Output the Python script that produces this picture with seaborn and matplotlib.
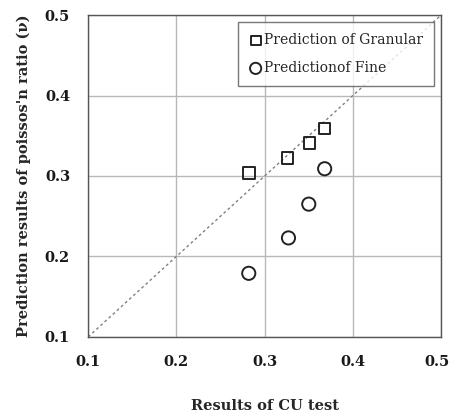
import matplotlib
matplotlib.use("Agg")
import matplotlib.pyplot as plt
import matplotlib.transforms as mtransforms
import seaborn as sns
import pandas as pd

# Data
cu_granular = [0.282, 0.326, 0.351, 0.368]
pred_granular = [0.304, 0.322, 0.341, 0.359]
cu_fine = [0.282, 0.327, 0.350, 0.368]
pred_fine = [0.179, 0.223, 0.265, 0.309]
line_x = [0.1, 0.5]
line_y = [0.1, 0.5]
ticks = [0.1, 0.2, 0.3, 0.4, 0.5]

sns.set_style("white")
plt.rcParams["font.family"] = ["DejaVu Serif"]

df_g = pd.DataFrame({"cu": cu_granular, "pred": pred_granular})
df_f = pd.DataFrame({"cu": cu_fine, "pred": pred_fine})

fig = plt.figure(figsize=(4.52, 4.19), dpi=100)
ax = fig.add_axes([0.195, 0.196, 0.781, 0.768])

sns.lineplot(x=line_x, y=line_y, ax=ax, color="#808080", linestyle=(0, (2, 2)),
             linewidth=1.0, zorder=2)
sns.scatterplot(data=df_g, x="cu", y="pred", ax=ax, marker="s", s=70,
                facecolor="none", edgecolor="#222222", linewidth=1.4,
                label="Prediction of Granular", zorder=3)
sns.scatterplot(data=df_f, x="cu", y="pred", ax=ax, marker="o", s=90,
                facecolor="none", edgecolor="#222222", linewidth=1.4,
                label="Predictionof Fine", zorder=3)

ax.set_xlim(0.1, 0.5)
ax.set_ylim(0.1, 0.5)
ax.set_xticks(ticks)
ax.set_yticks(ticks)
ax.set_xticklabels([f"{t:.1f}" for t in ticks], fontweight="bold", fontsize=10.5)
ax.set_yticklabels([f"{t:.1f}" for t in ticks], fontweight="bold", fontsize=10.5)
ax.grid(True, color="#b8b8b8", linewidth=1.0)
ax.set_axisbelow(True)
ax.tick_params(direction="out", length=5, width=1, color="#555555", pad=8,
               labelcolor="#1a1a1a")
for sp in ax.spines.values():
    sp.set_color("#555555")
    sp.set_linewidth(1.0)

# keep the last x tick label inside the figure edge
last = ax.get_xticklabels()[-1]
last.set_transform(last.get_transform() +
                   mtransforms.ScaledTranslation(-4 / 100, 0, fig.dpi_scale_trans))

ax.set_xlabel("Results of CU test", fontweight="bold", fontsize=10.5, labelpad=22)
ax.set_ylabel("Prediction results of poissos'n ratio (ν)", fontweight="bold",
              fontsize=10.5, labelpad=10)

leg = ax.legend(loc="upper right", frameon=True, fancybox=False, fontsize=10,
                handletextpad=0.1, handlelength=1.0, borderpad=0.8,
                labelspacing=1.0, borderaxespad=0.5, edgecolor="#555555",
                markerscale=0.85)
leg.get_frame().set_linewidth(1.0)

fig.savefig("out.png", dpi=100)
